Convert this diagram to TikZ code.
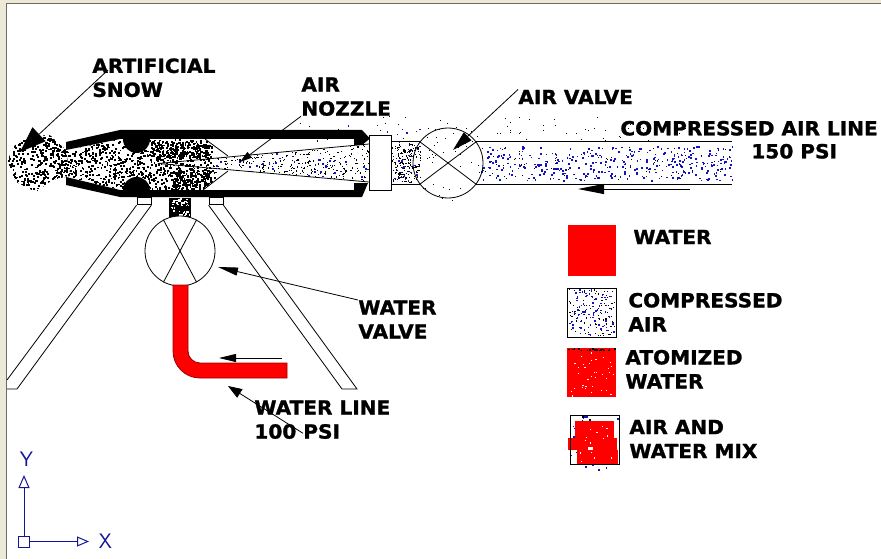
\documentclass[tikz,border=0pt]{standalone}
\usepackage{fontspec}
\setmainfont{DejaVu Sans}[BoldFeatures={FakeBold=1.3,FakeStretch=1.03}]
\usepackage{tikz}
\usetikzlibrary{arrows.meta,calc}

\definecolor{winface}{RGB}{236,233,216}
\definecolor{winedge}{RGB}{110,108,96}
\definecolor{airblue}{RGB}{20,20,190}
\definecolor{ucsblue}{RGB}{20,20,150}

% random dots in a box: [size] x0 y0 x1 y1 count colour
\newcommand{\speckle}[7][1.6]{\foreach \k in {1,...,#6}{\fill[#7] ({#2+rnd*(#4-#2)},{#3+rnd*(#5-#3)}) rectangle ++(#1,#1);}}

\tikzset{
	lbl/.style={anchor=north west,inner sep=0pt,align=left,font=\fontsize{19.5}{24}\selectfont\bfseries},
	valve/.style={circle,draw,minimum size=70,inner sep=0pt,line width=0.8pt},
	wall/.style={fill=black},
	swatch/.style={minimum size=49,inner sep=0pt,anchor=north west},
	axis/.style={ucsblue,line width=1pt},
	axislbl/.style={ucsblue,inner sep=0pt,font=\fontsize{21}{21}\selectfont\sffamily}
}

\begin{document}
\begin{tikzpicture}[x=1pt,y=-1pt,>=Triangle,line width=0.8pt]
	\useasboundingbox (0,0) rectangle (881,559);
	\pgfmathsetseed{417}
	
	% window frame
	\fill[winface] (0,0) rectangle (881,559);
	\fill[white] (6.5,3.5) rectangle (881,559);
	\draw[winedge,line width=1.2pt] (6.5,559)--(6.5,3.5)--(881,3.5);
	
	% snow and mix inside the gun
	\begin{scope}
		\clip (7,162)--(14,146)--(30,136)--(50,135)--(66,150)--(70,176)--(52,180)--(36,192)--(16,182)--cycle;
		\speckle[1.9]{7}{134}{70}{192}{480}{black}
	\end{scope}
	\begin{scope}
		\clip (60,152)--(120,139)--(205,139)--(228,156)--(240,163)--(230,169)--(203,190)--(120,190)--(60,175)--cycle;
		\speckle[1.8]{60}{139}{210}{190}{950}{black}
		\speckle[1.8]{150}{141}{212}{158}{170}{black}
		\speckle[1.8]{170}{170}{215}{190}{150}{black}
	\end{scope}
	
	% air in nozzle and line
	\begin{scope}
		\clip (158,163.5)--(369,144)--(369,182)--cycle;
		\speckle[1.2]{205}{144}{369}{182}{430}{black}
		\speckle[1.9]{215}{152}{369}{176}{45}{airblue}
	\end{scope}
	\speckle[1.2]{392}{143}{420}{182}{170}{black}
	\speckle[1.5]{392}{143}{420}{182}{25}{airblue}
	\speckle[1]{421}{122}{480}{200}{35}{black}
	\speckle[1.6]{480}{146}{732}{180}{360}{airblue}
	\speckle[1]{480}{146}{732}{180}{70}{black}
	\speckle[1]{300}{116}{690}{142}{70}{black}
	\speckle[1.2]{330}{125}{420}{142}{14}{airblue}
	
	% gun body
	\fill[wall] (66,142)--(120,130)--(362,130)--(370,138.5)--(362,145)--(354,145)--(354,139)--(120,139)--(66,150)--cycle;
	\fill[wall] (66,177)--(120,190)--(354,190)--(354,183)--(368,183)--(362,197)--(120,197)--(66,185)--cycle;
	\fill[wall] (123,139) arc [start angle=180,end angle=360,x radius=13.5,y radius=-14]--cycle;
	\fill[wall] (123,190) arc [start angle=180,end angle=360,x radius=13.5,y radius=13]--cycle;
	\draw (205,139)--(228,156);
	\draw (203,190)--(228,171);
	\draw (158,163.5)--(369,144);
	\draw (158,163.5)--(369,182);
	
	% feed below the mixing chamber
	\fill[wall] (169,198) rectangle (191,217);
	\speckle{172}{198}{188}{205}{28}{white}
	\speckle{170}{205}{190}{216}{14}{white}
	
	\node[draw,fill=white,minimum width=22.5,minimum height=55,inner sep=0pt] (coupling) at (380.5,163) {};
	
	% valves
	\node[valve] (airvalve) at (448,163) {};
	\draw (airvalve.143)--(airvalve.-37);
	\draw (airvalve.37)--(airvalve.217);
	\node[valve,fill=white] (watervalve) at (180,251) {};
	\draw (watervalve.118)--(watervalve.-62);
	\draw (watervalve.62)--(watervalve.-118);
	
	% air line
	\coordinate (airend) at (732,163);
	\draw (coupling.east |- airvalve.143)--(airvalve.143);
	\draw (coupling.east |- airvalve.217)--(airvalve.217);
	\draw (airvalve.37)--(airend |- airvalve.37);
	\draw (airvalve.-37)--(airend |- airvalve.-37);
	
	% water line
	\draw[fill=red,draw=red!60!black] (173,285)--(173,351) arc [start angle=180,end angle=90,radius=27]--(287,378)--(287,363)--(200,363) arc [start angle=90,end angle=180,radius=12]--(188,285)--cycle;
	
	% legs
	\node[draw,fill=white,minimum width=14,minimum height=7.5,inner sep=0pt] (footl) at (144,201) {};
	\node[draw,fill=white,minimum width=14,minimum height=7.5,inner sep=0pt] (footr) at (216,201) {};
	\coordinate (legla) at (7,380);
	\coordinate (leglb) at (7,389);
	\coordinate (leglc) at (17,389);
	\coordinate (legra) at (342,389);
	\coordinate (legrb) at (357,389);
	\draw (footl.south west)--(legla);
	\draw (footl.south east)--(leglc)--(leglb);
	\draw (footr.south west)--(legra)--(legrb)--(footr.south east);
	
	% labels
	\node[lbl] (snow) at (92,58) {ARTIFICIAL\\SNOW};
	\node[lbl] (nozzle) at (301,77) {AIR\\NOZZLE};
	\node[lbl] (airv) at (518,89.500) {AIR VALVE};
	\node[lbl] (airline) at (620,120.500) {COMPRESSED AIR LINE};
	\node[lbl] (psiair) at (751,143.500) {150 PSI};
	\node[lbl] (waterv) at (358,300) {WATER\\VALVE};
	\node[lbl] (waterl) at (254,400) {WATER LINE\\100 PSI};
	
	% leaders
	\coordinate (snowtip) at (20,152);
	\coordinate (nozzletip) at (240,162);
	\coordinate (airvtip) at (453,150);
	\coordinate (watervtip) at (218,267);
	\coordinate (waterltip) at (228,386);
	\coordinate (airflowa) at (690,189);
	\coordinate (airflowb) at (578,189);
	\coordinate (waterflowa) at (282,358);
	\coordinate (waterflowb) at (219,358);
	\draw[-{Triangle[length=26,width=19]}] ($(snow.north west)+(16,12)$)--(snowtip);
	\draw[-{Triangle[length=12,width=7]}] (nozzle.south west)--(nozzletip);
	\draw[-{Triangle[length=20,width=11]}] (airv.north west)--(airvtip);
	\draw[-{Triangle[length=20,width=8]}] (waterv.north west)--(watervtip);
	\draw[-{Triangle[length=14,width=10]}] ($(waterl.south west)+(49,-6)$)--(waterltip);
	\draw[-{Triangle[length=26,width=10]}] (airflowa)--(airflowb);
	\draw[-{Triangle[length=17,width=8]}] (waterflowa)--(waterflowb);
	
	% legend
	\node[swatch,fill=red,minimum width=48,minimum height=51] (keywater) at (568,225) {};
	\node[lbl] (keywaterlbl) at (633,229.500) {WATER};
	
	\node[swatch] (keyair) at (567,288) {};
	\speckle[1.1]{568}{289}{614}{335}{90}{black}
	\speckle[1.5]{568}{289}{614}{335}{85}{airblue}
	\draw (keyair.north west) rectangle (keyair.south east);
	\node[lbl] (keyairlbl) at (628,292.500) {COMPRESSED\\AIR};
	
	\node[swatch,fill=red] (keyatom) at (567,348) {};
	\speckle[1.2]{568}{351}{614}{396}{35}{white}
	\speckle{568}{348}{614}{350}{22}{black}
	\node[lbl] (keyatomlbl) at (625,349.500) {ATOMIZED\\WATER};
	
	\node[swatch] (keymix) at (570,415) {};
	\speckle{569}{415}{618}{470}{50}{airblue}
	\speckle{571}{416}{590}{463}{12}{black}
	\fill[red] (575,421) rectangle (614,438);
	\fill[red] (568,438) rectangle (617,450);
	\fill[red] (577,450) rectangle (618,465);
	\fill[white] (588,446.500) rectangle (593,450);
	\speckle[1.2]{578}{424}{612}{462}{14}{white}
	\draw (keymix.north west) rectangle (keymix.south east);
	\node[lbl] (keymixlbl) at (629,419.500) {AIR AND\\WATER MIX};
	
	% coordinate icon
	\node[draw=ucsblue,line width=1pt,minimum size=11,inner sep=0pt] (origin) at (24,541.500) {};
	\coordinate (ytip) at (origin.north |- 0,475);
	\coordinate (xtip) at (89,541.500);
	\draw[axis,-{Triangle[open,length=13,width=11]}] (origin.north)--(ytip);
	\draw[axis,-{Triangle[open,length=12,width=10]}] (origin.east)--(xtip);
	\node[axislbl] (ylbl) at (26.500,459) {Y};
	\node[axislbl] (xlbl) at (105.500,541) {X};
	
\end{tikzpicture}
\end{document}
